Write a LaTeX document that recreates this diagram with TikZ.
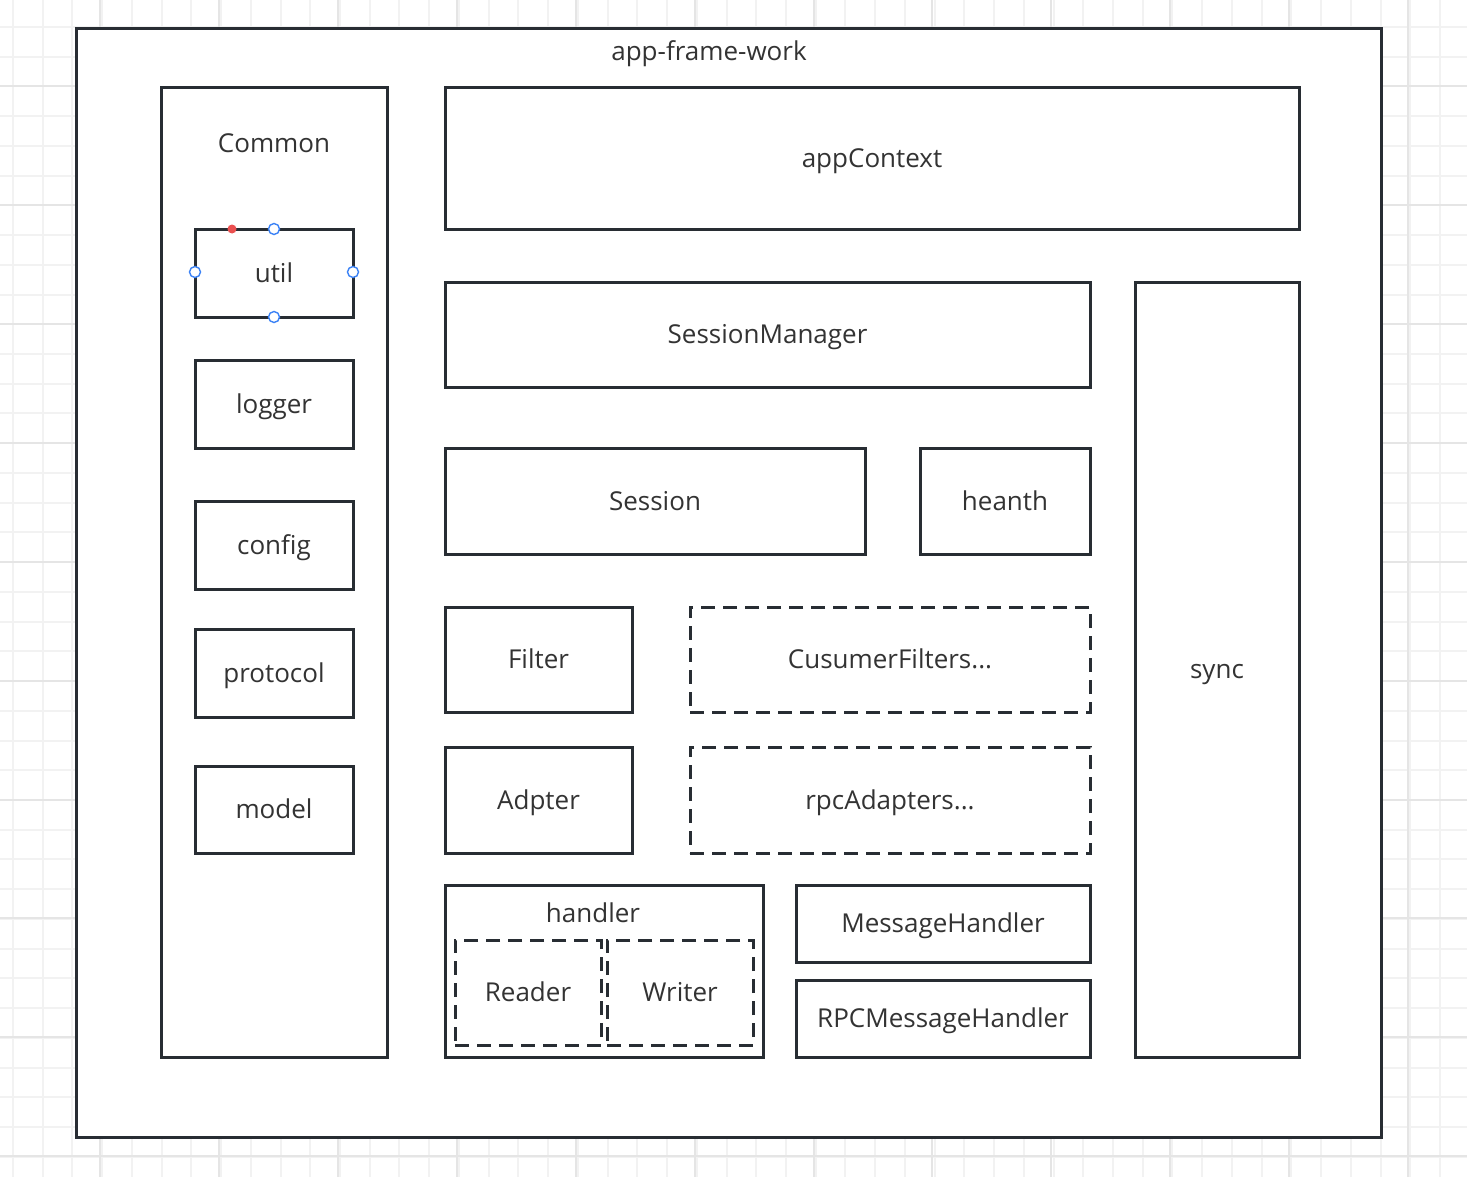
\documentclass[tikz,border=0pt]{standalone}
\usepackage{fontspec}
\setmainfont{Open Sans}
\usetikzlibrary{fit}
\definecolor{ln}{RGB}{40,45,51}
\definecolor{tx}{RGB}{51,51,51}
\definecolor{gmin}{RGB}{242,242,242}
\definecolor{gmaj}{RGB}{229,229,229}
\definecolor{hblue}{RGB}{59,130,246}
\definecolor{hred}{RGB}{235,80,80}
\tikzset{
 lbl/.style={text=tx, font=\fontsize{13}{15}\selectfont, inner sep=0pt, anchor=base, yshift=-4.6pt},
 box/.style={draw=ln, line width=1.5pt, fill=white, inner sep=0pt},
 dbox/.style={box, dash pattern=on 7pt off 4pt},
 handle/.style={circle, draw=hblue, fill=white, line width=0.7pt, minimum size=5.5pt, inner sep=0pt},
 rdot/.style={circle, fill=hred, minimum size=4.5pt, inner sep=0pt},
 gminor/.style={draw=gmin, line width=1pt},
 gmajor/.style={draw=gmaj, line width=1pt},
}
\begin{document}
\begin{tikzpicture}[x=0.5pt, y=-0.5pt]
\useasboundingbox (0,0) rectangle (1467,1177);
\fill[white] (0,0) rectangle (1467,1177);
% grid
\foreach \i in {0,...,49} \draw[gminor] ({13+\i*29.73},0) -- ({13+\i*29.73},1177);
\foreach \i in {0,...,39} \draw[gminor] (0,{27+\i*29.73}) -- (1467,{27+\i*29.73});
\foreach \i in {0,...,11} \draw[gmajor] ({100+\i*118.92},0) -- ({100+\i*118.92},1177);
\foreach \i in {0,...,9} \draw[gmajor] (0,{86+\i*118.92}) -- (1467,{86+\i*118.92});
% outer frame
\node[box, fit={(76,29) (1381,1137)}] (frame) {};
\node[lbl] (title) at (709,51) {app-frame-work};
% Common column
\node[box, fit={(161,88) (387,1057)}] (common) {};
\node[lbl] (commonlbl) at (274,143) {Common};
\node[box, fit={(195,229) (353,317)}] (util) {};
\node[lbl] at (util.center) {util};
\node[box, fit={(195,360) (353,448)}] (logger) {};
\node[lbl] at (logger.center) {logger};
\node[box, fit={(195,501) (353,589)}] (config) {};
\node[lbl] at (config.center) {config};
\node[box, fit={(195,629) (353,717)}] (protocol) {};
\node[lbl] at (protocol.center) {protocol};
\node[box, fit={(195,766) (353,853)}] (model) {};
\node[lbl] at (model.center) {model};
% selection handles on util
\node[rdot] (h0) at (232,229) {};
\node[handle] (h1) at (274,229) {};
\node[handle] (h2) at (195,272) {};
\node[handle] (h3) at (353,272) {};
\node[handle] (h4) at (274,317) {};
% main area
\node[box, fit={(445,88) (1299,229)}] (appctx) {};
\node[lbl] at (appctx.center) {appContext};
\node[box, fit={(445,282) (1090,387)}] (sessmgr) {};
\node[lbl] at (sessmgr.center) {SessionManager};
\node[box, fit={(1135,282) (1299,1057)}] (sync) {};
\node[lbl] at (sync.center) {sync};
\node[box, fit={(445,448) (865,554)}] (session) {};
\node[lbl] at (session.center) {Session};
\node[box, fit={(920,448) (1090,554)}] (heanth) {};
\node[lbl] at (heanth.center) {heanth};
\node[box, fit={(445,607) (632,712)}] (filter) {};
\node[lbl] at (filter.center) {Filter};
\node[dbox, fit={(690,607) (1090,712)}] (cusfilt) {};
\node[lbl] at (cusfilt.center) {CusumerFilters...};
\node[box, fit={(445,747) (632,853)}] (adpter) {};
\node[lbl] at (adpter.center) {Adpter};
\node[dbox, fit={(690,747) (1090,853)}] (rpcad) {};
\node[lbl] at (rpcad.center) {rpcAdapters...};
% handler group
\node[box, fit={(445,885) (763,1057)}] (handler) {};
\node[lbl] (handlerlbl) at (593,913) {handler};
\node[dbox, fit={(455,940) (601,1045)}] (reader) {};
\node[lbl] at (reader.center) {Reader};
\node[dbox, fit={(607,940) (753,1045)}] (writer) {};
\node[lbl] at (writer.center) {Writer};
\node[box, fit={(796,885) (1090,962)}] (msgh) {};
\node[lbl] at (msgh.center) {MessageHandler};
\node[box, fit={(796,980) (1090,1057)}] (rpcmsgh) {};
\node[lbl] at (rpcmsgh.center) {RPCMessageHandler};
\end{tikzpicture}
\end{document}
